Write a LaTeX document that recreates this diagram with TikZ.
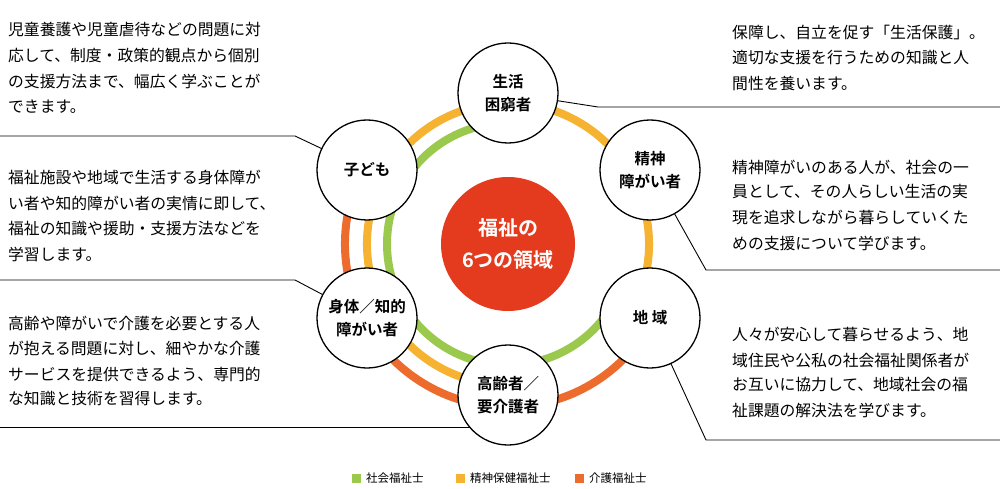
\documentclass[tikz,border=0pt]{standalone}
\usepackage{fontspec}
\usetikzlibrary{calc}
\setmainfont{Noto Sans CJK JP}[BoldFont={Noto Sans CJK JP Bold}]
\definecolor{cgreen}{HTML}{9BC94D}
\definecolor{cyellow}{HTML}{F5B331}
\definecolor{corange}{HTML}{EC6B2D}
\definecolor{cred}{HTML}{E43B1E}
\begin{document}
\begin{tikzpicture}[x=1pt,y=-1pt,
  ring/.style={line width=8pt},
  dom/.style={circle,draw,line width=1.3pt,fill=white,minimum size=100pt,inner sep=0pt,align=center,font=\fontsize{15.5}{23}\selectfont\bfseries},
  desc/.style={anchor=west,inner sep=0pt,font=\fontsize{15.8}{17}\selectfont},
  lead/.style={line width=0.9pt},
  leg/.style={anchor=west,inner sep=0pt,font=\fontsize{11.5}{13}\selectfont}]
\useasboundingbox (0,0) rectangle (1000,489);
\coordinate (c) at (508,244);
% node positions
\coordinate (p1) at (508,93);
\coordinate (p2) at (650,170);
\coordinate (p3) at (650,318);
\coordinate (p4) at (508,395);
\coordinate (p5) at (367,318);
\coordinate (p6) at (367,170);
% rings
\draw[ring,cgreen] ($(c)+(-90:121)$) arc[start angle=-90,end angle=-332,radius=121];
\draw[ring,cyellow] ($(c)+(28:141)$) arc[start angle=28,end angle=-270,radius=141];
\draw[ring,corange] ($(c)+(-152:163)$) arc[start angle=-152,end angle=-332,radius=163];
% leader lines (drawn before the circles, which cover their ends)
\coordinate (l1a) at (0,136); \coordinate (l1b) at (295,136);
\draw[lead] (l1a) -- (l1b) -- (p6);
\coordinate (l2a) at (0,280); \coordinate (l2b) at (295,280);
\draw[lead] (l2a) -- (l2b) -- (p5);
\coordinate (l3a) at (0,427);
\draw[lead] (l3a) -- (l3a -| p4);
\coordinate (r1a) at (1000,107); \coordinate (r1b) at (598,107);
\draw[lead] (r1a) -- (r1b) -- (p1);
\coordinate (r2a) at (1000,270); \coordinate (r2b) at (706,270);
\draw[lead] (r2a) -- (r2b) -- (p2);
\coordinate (r3a) at (1000,440); \coordinate (r3b) at (706,440);
\draw[lead] (r3a) -- (r3b) -- (p3);
% center
\node[circle,fill=cred,minimum size=134pt,inner sep=0pt,align=center,text=white,font=\fontsize{20}{32}\selectfont\bfseries] (center) at (c) {福祉の\\6つの領域};
% domain nodes
\node[dom] (n1) at (p1) {生活\\困窮者};
\node[dom] (n2) at (p2) {精神\\障がい者};
\node[dom] (n3) at (p3) {地 域};
\node[dom] (n4) at (p4) {高齢者／\\要介護者};
\node[dom] (n5) at (p5) {身体／知的\\障がい者};
\node[dom] (n6) at (p6) {子ども};
% left texts
\node[desc] (t11) at (8,30) {児童養護や児童虐待などの問題に対};
\node[desc] (t12) at (8,55) {応して、制度・政策的観点から個別};
\node[desc] (t13) at (8,81) {の支援方法まで、幅広く学ぶことが};
\node[desc] (t14) at (8,107) {できます。};
\node[desc] (t21) at (8,177) {福祉施設や地域で生活する身体障が};
\node[desc] (t22) at (8,203) {い者や知的障がい者の実情に即して、};
\node[desc] (t23) at (8,229) {福祉の知識や援助・支援方法などを};
\node[desc] (t24) at (8,254) {学習します。};
\node[desc] (t31) at (8,323) {高齢や障がいで介護を必要とする人};
\node[desc] (t32) at (8,348) {が抱える問題に対し、細やかな介護};
\node[desc] (t33) at (8,374) {サービスを提供できるよう、専門的};
\node[desc] (t34) at (8,399) {な知識と技術を習得します。};
% right texts
\node[desc] (u11) at (732,32) {保障し、自立を促す「生活保護」。};
\node[desc] (u12) at (732,58) {適切な支援を行うための知識と人};
\node[desc] (u13) at (732,83) {間性を養います。};
\node[desc] (u21) at (732,167) {精神障がいのある人が、社会の一};
\node[desc] (u22) at (732,192) {員として、その人らしい生活の実};
\node[desc] (u23) at (732,217) {現を追求しながら暮らしていくた};
\node[desc] (u24) at (732,243) {めの支援について学びます。};
\node[desc] (u31) at (732,334) {人々が安心して暮らせるよう、地};
\node[desc] (u32) at (732,360) {域住民や公私の社会福祉関係者が};
\node[desc] (u33) at (732,385) {お互いに協力して、地域社会の福};
\node[desc] (u34) at (732,410) {祉課題の解決法を学びます。};
% legend
\fill[cgreen] (352,474) rectangle (361,483);
\node[leg] (g1) at (366,478.5) {社会福祉士};
\fill[cyellow] (456,474) rectangle (465,483);
\node[leg] (g2) at (470,478.5) {精神保健福祉士};
\fill[corange] (575,474) rectangle (584,483);
\node[leg] (g3) at (589,478.5) {介護福祉士};
\end{tikzpicture}
\end{document}
